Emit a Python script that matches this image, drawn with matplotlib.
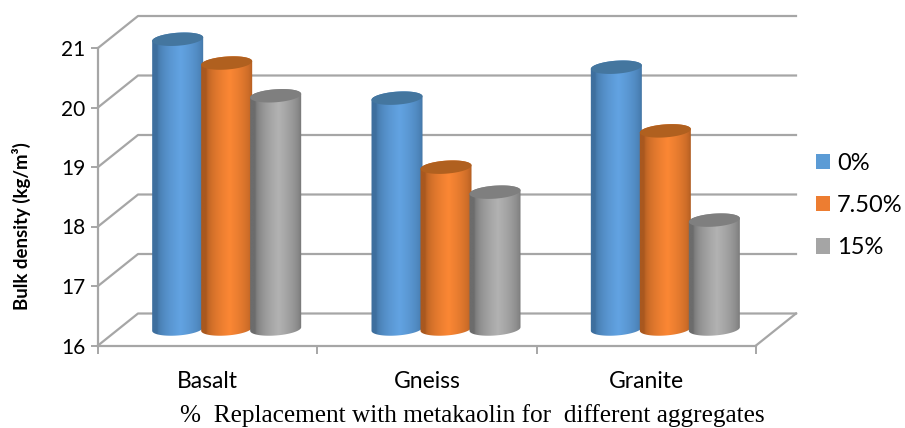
import numpy as np
import matplotlib
matplotlib.use('Agg')
from matplotlib import pyplot as plt
from matplotlib.patches import Patch, Polygon

categories = ['Basalt', 'Gneiss', 'Granite']
series_names = ['0%', '7.50%', '15%']
vals_0 = [20.87, 19.88, 20.40]
vals_75 = [20.47, 18.72, 19.33]
vals_15 = [19.92, 18.30, 17.83]
y_ticks = [16, 17, 18, 19, 20, 21]

# legend colour, edge of the cylinder, middle of the cylinder, top cap
colors = [('#5B9BD5', '#3E6F9E', '#62A3E2', '#44769F'),
          ('#ED7D31', '#A9581F', '#FB8734', '#B0601F'),
          ('#A5A5A5', '#6C6C6C', '#B2B2B2', '#7F7F7F')]

plt.rcParams['font.family'] = ['Lato', 'DejaVu Sans']
W, H = 905, 428
fig = plt.figure(figsize=(W / 100, H / 100), dpi=100)

# The axes is the front plane of the fake 3D box
left, right, bottom, top = 98, 756, 345.5, 48
ax = fig.add_axes([left / W, 1 - bottom / H, (right - left) / W, (bottom - top) / H])
ax.set_xlim(0, 3)
ax.set_ylim(16, 21)
px_x = 3 / (right - left)
px_y = 5 / (bottom - top)

grid_col = '#A6A6A6'
back_dx, back_dy = 40 * px_x, 32 * px_y

# Back wall and floor
for v in y_ticks:
    ax.plot([0, back_dx, 3 + back_dx], [v, v + back_dy, v + back_dy],
            color=grid_col, lw=1.6, clip_on=False, zorder=1)
ax.plot([3, 3 + back_dx], [16, 16 + back_dy], color=grid_col, lw=1.6, clip_on=False, zorder=1)


def cylinder(xc, yb, yt, cols, z):
    half_w, half_h, tilt = 25.5, 6.5, 0.07
    t = np.linspace(0, 2 * np.pi, 121)
    ex = half_w * np.cos(t) * px_x
    ey = (half_h * np.sin(t) + tilt * half_w * np.cos(t)) * px_y

    # t from pi to 2pi is the lower half of an ellipse
    low = t >= np.pi
    up = t <= np.pi
    body = np.vstack([np.column_stack([xc + ex[low], yb + ey[low]]),
                      np.column_stack([xc + ex[up], yt + ey[up]])])
    outline = Polygon(body, closed=True, fc='none', ec='none', transform=ax.transData)
    ax.add_patch(outline)

    # horizontal shading, lightest a little right of centre
    edge = np.array(matplotlib.colors.to_rgb(cols[1]))
    mid = np.array(matplotlib.colors.to_rgb(cols[2]))
    s = np.linspace(0, 1, 120)
    w = np.clip(1 - np.abs(s - 0.55) / 0.45, 0, 1) ** 0.5
    img = (edge[None, :] * (1 - w[:, None]) + mid[None, :] * w[:, None])[None, :, :]
    ext = (xc - 26 * px_x, xc + 26 * px_x, yb - 12 * px_y, yt + 12 * px_y)
    im = ax.imshow(img, extent=ext, aspect='auto', zorder=z, interpolation='bilinear')
    # the tallest bars rise above the front plane, so do not stop at the axes box
    im.set_clip_box(fig.bbox)
    im.set_clip_path(outline)

    ax.add_patch(Polygon(np.column_stack([xc + ex, yt + ey]), closed=True,
                         fc=cols[3], ec='none', clip_on=False, zorder=z + 0.1))


# Bars sit half way into the box
mid_dx, mid_dy = 19 * px_x, 16.5 * px_y
series = [vals_0, vals_75, vals_15]
gap = 49 * px_x
for i in range(len(categories)):
    for j, vals in enumerate(series):
        xc = i + 0.5 + mid_dx + (j - 1) * gap
        cylinder(xc, 16 + mid_dy, vals[i] + mid_dy, colors[j], 3 + j * 0.5)
ax.set_xlim(0, 3)
ax.set_ylim(16, 21)

for s in ['top', 'right']:
    ax.spines[s].set_visible(False)
for s in ['left', 'bottom']:
    ax.spines[s].set_color(grid_col)
    ax.spines[s].set_linewidth(1.6)
ax.set_yticks(y_ticks)
ax.set_xticks([0, 1, 2, 3])
ax.set_xticklabels([])
ax.set_xticks([0.5, 1.5, 2.5], minor=True)
ax.set_xticklabels(categories, minor=True)
ax.tick_params(axis='y', colors=grid_col, width=1.4, length=5, labelcolor='black',
               labelsize=15, pad=4)
ax.tick_params(axis='x', which='major', color=grid_col, width=1.4, length=6)
ax.tick_params(axis='x', which='minor', length=0, labelsize=16.5, pad=18)

fig.text(21 / W, 1 - 226 / H, 'Bulk density (kg/m³)', rotation=90, ha='center', va='center',
         fontsize=13.4, fontweight='bold')
fig.text(472 / W, 1 - 415.5 / H, '%  Replacement with metakaolin for  different aggregates',
         ha='center', va='center', fontsize=18.2, family='Liberation Serif')

handles = [Patch(fc=c[0], ec='none', label=n) for c, n in zip(colors, series_names)]
fig.legend(handles=handles, loc='upper left', bbox_to_anchor=(811 / W, 1 - 148 / H),
           frameon=False, fontsize=17, handlelength=0.62, handleheight=0.62,
           handletextpad=0.28, labelspacing=0.9, borderpad=0.2, borderaxespad=0)

fig.savefig('out.png', dpi=100)
